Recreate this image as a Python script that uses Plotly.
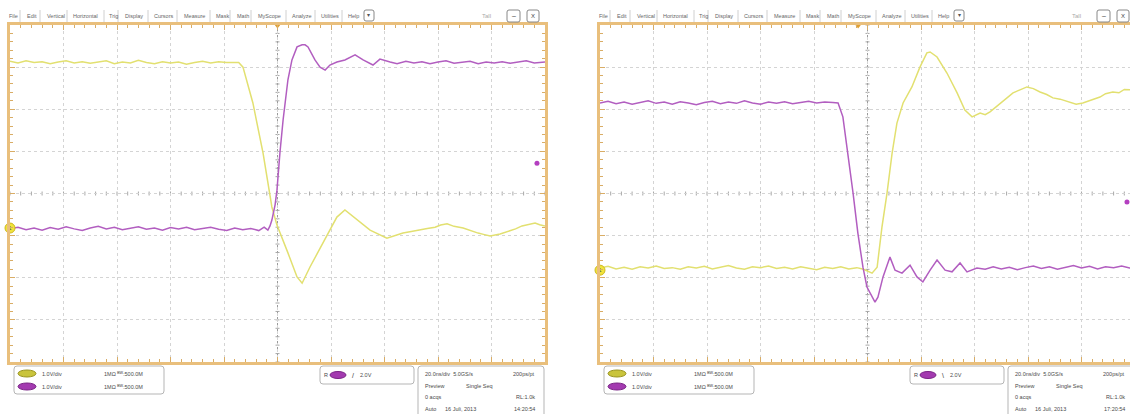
import plotly.graph_objects as go

W, H = 1130, 414

# ---------------- data (time in ns, 20 ns/div; screen volts, 1 V/div) ----------------
left_ch1_t = [-100, -97, -94, -91, -88, -85, -82, -79, -76, -73, -70, -67, -64, -61, -58,
              -55, -52, -49, -46, -43, -40, -37, -34, -31, -28, -25, -22, -19, -16, -14.5,
              -12.9, -9.2, -5.4, -2.1, -0.2, 0.9, 3.9, 7.3, 9.2, 12.1, 17.0, 22.2, 25.2, 29.7, 34.6, 40.9,
              44, 46.9, 50, 53.3, 56, 58.9, 61, 63.4, 66, 69.4, 72, 75.0, 77, 79.5, 83.2, 86.9, 89, 91.4,
              94, 96.3, 98, 100]
left_ch1_v = [3.14, 3.10, 3.15, 3.11, 3.13, 3.08, 3.12, 3.15, 3.10, 3.13, 3.09, 3.12, 3.15, 3.08, 3.12,
              3.10, 3.16, 3.11, 3.08, 3.13, 3.10, 3.12, 3.07, 3.11, 3.14, 3.10, 3.13, 3.11, 3.12, 3.11,
              3.00, 2.15, 0.96, -0.32, -0.75, -0.94, -1.41, -1.98, -2.13, -1.75, -1.18, -0.56, -0.39, -0.63, -0.87, -1.06,
              -1.00, -0.94, -0.90, -0.87, -0.83, -0.80, -0.75, -0.72, -0.78, -0.82, -0.88, -0.94, -0.97, -1.01, -0.96, -0.89,
              -0.84, -0.77, -0.73, -0.70, -0.74, -0.77]

left_ch2_t = [-100, -97, -94, -91, -88, -85, -82, -79, -76, -73, -70, -67, -64, -61, -58,
              -55, -52, -49, -46, -43, -40, -37, -34, -31, -28, -25, -22, -19, -16, -13, -10, -7, -5,
              -3.6, -2.8, -2.1, -0.9, -0.2, 0.9, 2.1, 3.9, 5.4, 7.3, 9.2, 10.3, 11.4, 14.0, 15.9, 17.8,
              19.6, 22.2, 25.2, 29.0, 32.0, 35.7, 38.3, 42.1, 44.7,
              48, 51, 54, 57, 60, 63, 66, 69, 72, 75, 78, 81, 84, 87, 90, 93, 96, 100]
left_ch2_v = [-0.84, -0.80, -0.86, -0.82, -0.87, -0.81, -0.85, -0.79, -0.84, -0.88, -0.82, -0.78, -0.84, -0.80, -0.86,
              -0.83, -0.79, -0.85, -0.82, -0.87, -0.81, -0.84, -0.80, -0.86, -0.83, -0.80, -0.85, -0.88, -0.82, -0.86,
              -0.83, -0.88, -0.80,
              -0.87, -0.77, -0.63, -0.27, 0.08, 0.96, 1.75, 2.70, 3.17, 3.48, 3.53, 3.53, 3.48, 3.17, 3.00, 2.93,
              3.05, 3.12, 3.17, 3.29, 3.17, 3.05, 3.19, 3.12, 3.08,
              3.14, 3.10, 3.13, 3.08, 3.12, 3.15, 3.09, 3.11, 3.14, 3.08, 3.12, 3.10, 3.13, 3.09, 3.12, 3.15, 3.10, 3.12]

right_ch1_t = [-100, -97, -94, -91, -88, -85, -82, -79, -76, -73, -70, -67, -64, -61, -58, -55, -52,
               -49, -46, -43, -40, -37, -34, -31, -28, -25, -22, -19, -16, -13, -10, -7, -4,
               -1.5, 1.7, 3.6, 5.4, 7.3, 9.2, 11.0, 13.3, 16.6, 19.6, 22.2, 23.4, 26.0, 29.7, 33.5, 36.4, 39.1,
               42.1, 44.0, 45.8, 47.5, 49.5, 52.0, 54.4, 57.0, 59.6, 62.0, 64.5, 67.0, 69.3, 72.0, 75.7,
               78.0, 80.5, 83.5, 86.9, 89.0, 91.7, 94.0, 96.0, 98.1, 100]
right_ch1_v = [-1.77, -1.73, -1.79, -1.75, -1.80, -1.74, -1.77, -1.72, -1.78, -1.76, -1.80, -1.74, -1.77, -1.73,
               -1.79, -1.75, -1.71, -1.77, -1.80, -1.74, -1.76, -1.72, -1.78, -1.75, -1.79, -1.74, -1.77, -1.81,
               -1.75, -1.78, -1.74, -1.79, -1.76,
               -1.80, -1.89, -1.75, -0.80, 0.01, 0.96, 1.67, 2.15, 2.53, 3.00, 3.34, 3.36, 3.24, 2.86, 2.39, 1.98, 1.82,
               1.91, 1.87, 1.94, 2.03, 2.15, 2.28, 2.39, 2.46, 2.53, 2.49, 2.41, 2.35, 2.27, 2.24, 2.17,
               2.12, 2.15, 2.21, 2.29, 2.37, 2.41, 2.39, 2.47, 2.46, 2.48]

right_ch2_t = [-100, -97, -94, -91, -88, -85, -82, -79, -76, -73, -70, -67, -64, -61, -58,
               -55, -52, -49, -46, -43, -40, -37, -34, -31, -28, -25, -22, -19, -16, -13,
               -11.0, -9.2, -7.3, -5.4, -3.6, -1.7, -0.2, 0.9, 2.8, 3.9, 5.8, 8.4, 10.3, 12.9, 15.9, 18.5,
               20.7, 23.4, 26.0, 29.0, 31.6, 34.6, 37.2, 40.9,
               44, 47, 50, 53, 56, 59, 62, 65, 68, 71, 74, 77, 80, 83, 86, 89, 92, 95, 98, 100]
right_ch2_v = [2.15, 2.19, 2.13, 2.17, 2.12, 2.16, 2.20, 2.14, 2.17, 2.12, 2.18, 2.15, 2.11, 2.16, 2.19,
               2.13, 2.17, 2.14, 2.20, 2.15, 2.12, 2.17, 2.14, 2.18, 2.13, 2.16, 2.19, 2.15, 2.17, 2.16,
               2.15, 1.82, 0.96, 0.01, -0.94, -1.75, -2.22, -2.36, -2.58, -2.46, -1.98, -1.51, -1.82, -1.89, -1.70, -1.98,
               -2.10, -1.82, -1.58, -1.82, -1.86, -1.65, -1.86, -1.77,
               -1.80, -1.74, -1.79, -1.75, -1.81, -1.76, -1.72, -1.78, -1.74, -1.80, -1.75, -1.71, -1.77, -1.73,
               -1.79, -1.74, -1.76, -1.72, -1.77, -1.75]

ch1_ground_v = [-0.82, -1.82]          # channel 1 reference marker level
trig_level_v = [0.72, -0.20]           # trigger level dot on the right edge
trig_pos_t = [0.0, -3.5]               # trigger position marker on top edge
clock_text = ["14:20:54", "17:20:54"]
slope_text = ["/", "\\"]
menu_items = ["File", "Edit", "Vertical", "Horizontal", "Trig", "Display", "Cursors",
              "Measure", "Mask", "Math", "MyScope", "Analyze", "Utilities", "Help"]

for a, b in [(left_ch1_t, left_ch1_v), (left_ch2_t, left_ch2_v),
             (right_ch1_t, right_ch1_v), (right_ch2_t, right_ch2_v)]:
    assert len(a) == len(b), (len(a), len(b))

# ---------------- style ----------------
YEL = "#e2e070"
PUR = "#b25ec0"
FRAME = "#e9bf7c"
TICKC = "#d9ad66"
TXT = "#4a4a4a"
FONT = "Liberation Sans"

TOP, BOT = 25, 362
YDOM = [1 - BOT / H, 1 - TOP / H]
PX_PER_DIV = 53.5
panels = [
    dict(off=0, dom=[10 / W, 545 / W], rng=[-100, 100]),
    dict(off=590, dom=[600 / W, 1.0], rng=[-100, -100 + (1130 - 600) / PX_PER_DIV * 20]),
]

fig = go.Figure()
series = [(left_ch1_t, left_ch1_v, left_ch2_t, left_ch2_v),
          (right_ch1_t, right_ch1_v, right_ch2_t, right_ch2_v)]

shapes, annots = [], []


def px(x):
    return x / W


def py(y):
    return 1 - y / H


def rrect(x0, y0, x1, y1, r=3, color="#b5b5b5", fill="rgba(0,0,0,0)", width=1):
    rx, ry = r / W, r / H
    X0, X1, Y0, Y1 = px(x0), px(x1), py(y0), py(y1)
    path = (f"M {X0+rx},{Y0} L {X1-rx},{Y0} Q {X1},{Y0} {X1},{Y0-ry} L {X1},{Y1+ry} "
            f"Q {X1},{Y1} {X1-rx},{Y1} L {X0+rx},{Y1} Q {X0},{Y1} {X0},{Y1+ry} "
            f"L {X0},{Y0-ry} Q {X0},{Y0} {X0+rx},{Y0} Z")
    shapes.append(dict(type="path", path=path, xref="paper", yref="paper",
                       line=dict(color=color, width=width), fillcolor=fill, layer="above"))


def text(x, y, s, size=5.5, color=TXT, anchor="left"):
    annots.append(dict(x=px(x), y=py(y), xref="paper", yref="paper", text=s, showarrow=False,
                       xanchor=anchor, yanchor="middle",
                       font=dict(size=size, color=color, family=FONT)))


for i, p in enumerate(panels):
    n = "" if i == 0 else str(i + 1)
    xa, ya = "x" + n, "y" + n
    t1, v1, t2, v2 = series[i]
    fig.add_trace(go.Scatter(x=t1, y=v1, mode="lines", line=dict(color=YEL, width=1.5),
                             xaxis=xa, yaxis=ya, hoverinfo="skip"))
    fig.add_trace(go.Scatter(x=t2, y=v2, mode="lines", line=dict(color=PUR, width=1.5),
                             xaxis=xa, yaxis=ya, hoverinfo="skip"))
    # channel 1 ground marker
    fig.add_trace(go.Scatter(x=[p["rng"][0]], y=[ch1_ground_v[i]], mode="markers+text",
                             marker=dict(size=10, color="#f1e33a", line=dict(color="#cdb820", width=1)),
                             text=["1"], textposition="middle center",
                             textfont=dict(size=6, color="#555", family=FONT),
                             xaxis=xa, yaxis=ya, cliponaxis=False, hoverinfo="skip"))
    # trigger level dot
    fig.add_trace(go.Scatter(x=[97], y=[trig_level_v[i]], mode="markers",
                             marker=dict(size=5, color="#b43fc0"),
                             xaxis=xa, yaxis=ya, cliponaxis=False, hoverinfo="skip"))
    # trigger position marker
    fig.add_trace(go.Scatter(x=[trig_pos_t[i]], y=[4], mode="markers",
                             marker=dict(size=7, color="#e0a032", symbol="triangle-down"),
                             xaxis=xa, yaxis=ya, cliponaxis=False, hoverinfo="skip"))

    axx = dict(domain=p["dom"], range=p["rng"], dtick=20, tick0=0, showgrid=True,
               gridcolor="#d4d4d4", griddash="dot", gridwidth=1, zeroline=False,
               showline=True, linecolor=FRAME, linewidth=3, mirror="allticks",
               ticks="inside", ticklen=5, tickcolor=TICKC, tickwidth=1,
               minor=dict(dtick=4, ticks="inside", ticklen=3, tickcolor=TICKC, showgrid=False),
               showticklabels=False, fixedrange=True, anchor=ya)
    axy = dict(domain=YDOM, range=[-4, 4], dtick=1, tick0=0, showgrid=True,
               gridcolor="#d4d4d4", griddash="dot", gridwidth=1, zeroline=False,
               showline=True, linecolor=FRAME, linewidth=3,
               mirror="allticks" if i == 0 else False,
               ticks="inside", ticklen=5, tickcolor=TICKC, tickwidth=1,
               minor=dict(dtick=0.2, ticks="inside", ticklen=3, tickcolor=TICKC, showgrid=False),
               showticklabels=False, fixedrange=True, anchor=xa)
    fig.update_layout(**{"xaxis" + n: axx, "yaxis" + n: axy})

    # center crosshair
    shapes.append(dict(type="line", xref=xa, yref=ya, x0=p["rng"][0], x1=p["rng"][1], y0=0, y1=0,
                       line=dict(color="#9a9a9a", width=1, dash="dot"), layer="below"))
    shapes.append(dict(type="line", xref=xa, yref=ya, x0=0, x1=0, y0=-4, y1=4,
                       line=dict(color="#9a9a9a", width=1, dash="dot"), layer="below"))
    k = 0
    while -100 + 4 * k <= p["rng"][1]:
        tx = -100 + 4 * k
        shapes.append(dict(type="line", xref=xa, yref=ya, ysizemode="pixel", yanchor=0,
                           x0=tx, x1=tx, y0=-2, y1=2, line=dict(color="#a8a8a8", width=1), layer="below"))
        k += 1
    for k in range(41):
        ty = -4 + 0.2 * k
        shapes.append(dict(type="line", xref=xa, yref=ya, xsizemode="pixel", xanchor=0,
                           x0=-2, x1=2, y0=ty, y1=ty, line=dict(color="#a8a8a8", width=1), layer="below"))

    # ---------- window chrome ----------
    o = p["off"]
    menu_x = [7, 25, 45, 71, 107, 123, 152, 182, 214, 235, 256, 290, 319, 346]
    sep_x = [20, 40, 67, 104, 118, 148, 177, 210, 230, 251, 286, 315, 342]
    for name, mx in zip(menu_items, menu_x):
        text(mx + o, 16, name, size=5.5, color="#666")
    for sx in sep_x:
        shapes.append(dict(type="line", xref="paper", yref="paper", x0=px(sx + o), x1=px(sx + o),
                           y0=py(10), y1=py(22), line=dict(color="#d0d0d0", width=1)))
    rrect(364 + o, 10, 374 + o, 21, r=2, color="#888")
    text(369 + o, 15.5, "▾", size=6, color="#555", anchor="center")
    text(480 + o, 16, "Tall", size=6, color="#aaa")
    rrect(507 + o, 10, 520 + o, 22, r=2, color="#888")
    text(513.5 + o, 16, "–", size=7, color="#444", anchor="center")
    rrect(527 + o, 10, 539 + o, 22, r=2, color="#888")
    text(533 + o, 16, "X", size=6, color="#444", anchor="center")

    # channel readout box
    rrect(14 + o, 366, 164 + o, 394, r=3)
    shapes.append(dict(type="circle", xref="paper", yref="paper", x0=px(18 + o), x1=px(36 + o),
                       y0=py(370), y1=py(377), fillcolor="#c9c43c", line=dict(color="#9a9420", width=1)))
    shapes.append(dict(type="circle", xref="paper", yref="paper", x0=px(18 + o), x1=px(36 + o),
                       y0=py(383), y1=py(390), fillcolor="#a33ab0", line=dict(color="#7a2486", width=1)))
    text(40 + o, 373.5, "1.0V/div", size=5.5)
    text(40 + o, 386.5, "1.0V/div", size=5.5)
    text(102 + o, 373.5, "1MΩ ᴮᵂ:500.0M", size=5.5)
    text(102 + o, 386.5, "1MΩ ᴮᵂ:500.0M", size=5.5)

    # trigger readout box
    rrect(320 + o, 366, 414 + o, 384, r=3)
    text(322 + o, 375, "R", size=5.5)
    shapes.append(dict(type="circle", xref="paper", yref="paper", x0=px(330 + o), x1=px(346 + o),
                       y0=py(371.5), y1=py(378.5), fillcolor="#a33ab0", line=dict(color="#7a2486", width=1)))
    text(350 + o, 375, slope_text[i], size=7, color="#333")
    text(358 + o, 375, "2.0V", size=5.5)

    # acquisition readout box
    rrect(418 + o, 366, 544 + o, 420, r=3)
    text(423 + o, 374, "20.0ns/div  5.0GS/s", size=5.5)
    text(537 + o, 374, "200ps/pt", size=5.5, anchor="right")
    text(423 + o, 385.5, "Preview", size=5.5)
    text(464 + o, 385.5, "Single Seq", size=5.5)
    text(423 + o, 397, "0 acqs", size=5.5)
    text(537 + o, 397, "RL:1.0k", size=5.5, anchor="right")
    text(423 + o, 408.5, "Auto", size=5.5)
    text(443 + o, 408.5, "16 Juli, 2013", size=5.5)
    text(537 + o, 408.5, clock_text[i], size=5.5, anchor="right")

fig.update_layout(
    width=W, height=H, margin=dict(l=0, r=0, t=0, b=0),
    paper_bgcolor="white", plot_bgcolor="white", showlegend=False,
    shapes=shapes, annotations=annots,
    font=dict(family=FONT),
)

fig.write_html("out.html", config={"displayModeBar": False, "staticPlot": True},
               post_script="document.body.style.margin='0px';document.body.style.overflow='hidden';")
